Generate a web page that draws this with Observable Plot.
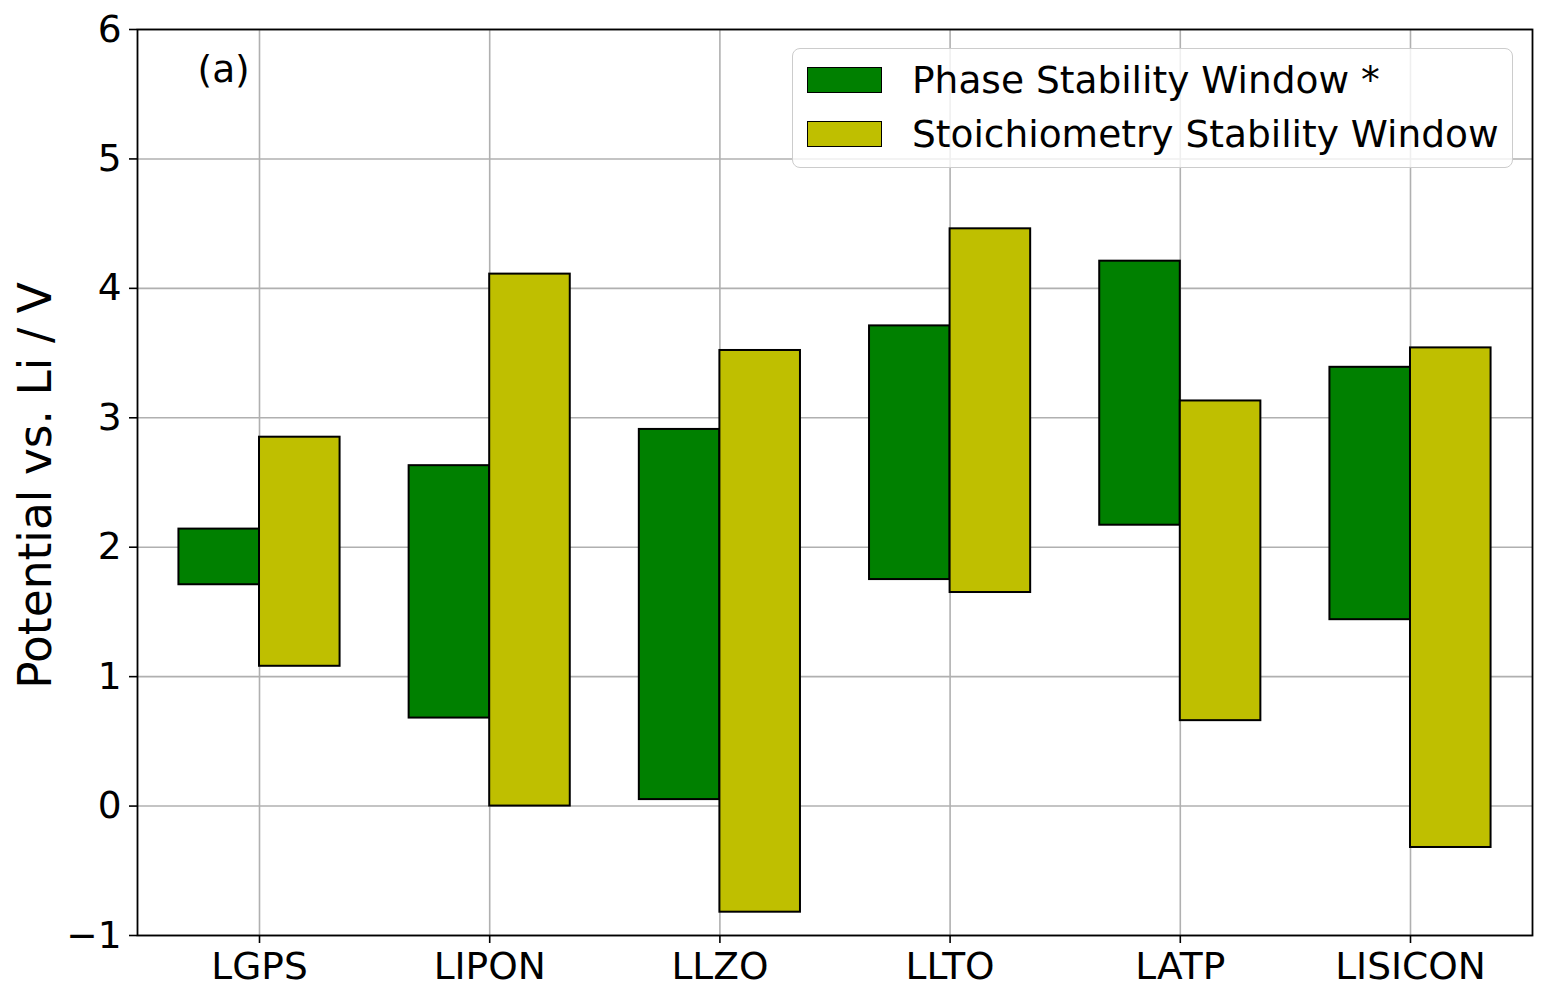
<!DOCTYPE html>
<html>
<head>
<meta charset="utf-8">
<script src="https://cdn.jsdelivr.net/npm/d3@7"></script>
<script src="https://cdn.jsdelivr.net/npm/@observablehq/plot@0.6"></script>
<style>
  body { margin: 0; background: #fff; }
  #wrap { position: relative; width: 1555px; height: 1002px; font-family: "DejaVu Sans", sans-serif; }
  #legend { position: absolute; left: 792px; top: 48px; width: 719px; height: 118px;
    background: rgba(255,255,255,0.8); border: 1.5px solid #cccccc; border-radius: 8px; }
  .item { position: absolute; left: 14px; display: flex; align-items: center; height: 30px; }
  .sw { width: 73px; height: 24px; border: 1.5px solid #000; margin-right: 30px; }
  .lab { font-size: 37.5px; color: #000; white-space: nowrap; line-height: 30px; }
</style>
</head>
<body>
<div id="wrap"></div>
<script>
const categories = ["LGPS", "LIPON", "LLZO", "LLTO", "LATP", "LISICON"];
const phaseLow   = [1.71, 0.68, 0.05, 1.75, 2.17, 1.44];
const phaseHigh  = [2.14, 2.63, 2.91, 3.71, 4.21, 3.39];
const stoichLow  = [1.08, 0.00, -0.82, 1.65, 0.66, -0.32];
const stoichHigh = [2.85, 4.11, 3.52, 4.46, 3.13, 3.54];
const seriesNames = ["Phase Stability Window *", "Stoichiometry Stability Window"];
const seriesColors = ["#008000", "#bfbf00"];
const yTicks = [-1, 0, 1, 2, 3, 4, 5, 6];
const yLabel = "Potential vs. Li / V";
const panelLabel = "(a)";

const barWidth = 0.35;
const rows = [];
categories.forEach((c, i) => {
  rows.push({i, cat: c, series: 0, lo: phaseLow[i], hi: phaseHigh[i]});
  rows.push({i, cat: c, series: 1, lo: stoichLow[i], hi: stoichHigh[i]});
});
const xTicks = categories.map((_, i) => i);

const chart = Plot.plot({
  width: 1555,
  height: 1002,
  marginLeft: 137,
  marginRight: 23,
  marginTop: 29,
  marginBottom: 67,
  style: { fontFamily: "DejaVu Sans, sans-serif", fontSize: "37.5px", color: "#000", background: "#fff" },
  x: { type: "linear", domain: [-0.53, 5.53] },
  y: { domain: [-1, 6] },
  marks: [
    Plot.gridX(xTicks, { stroke: "#b0b0b0", strokeOpacity: 1, strokeWidth: 1.6 }),
    Plot.gridY(yTicks, { stroke: "#b0b0b0", strokeOpacity: 1, strokeWidth: 1.6 }),
    Plot.rect(rows, {
      x1: d => d.series === 0 ? d.i - barWidth : d.i,
      x2: d => d.series === 0 ? d.i : d.i + barWidth,
      y1: "lo", y2: "hi",
      fill: d => seriesColors[d.series],
      stroke: "#000", strokeWidth: 2
    }),
    Plot.frame({ stroke: "#000", strokeWidth: 1.8 }),
    Plot.axisX({ ticks: xTicks, tickFormat: i => categories[i], tickSize: 8, tickPadding: 9, label: null, fontSize: 37.5, strokeWidth: 1.6 }),
    Plot.axisY({ ticks: yTicks, tickFormat: d3.format("d"), tickSize: 8, tickPadding: 8, label: null, fontSize: 37.5, strokeWidth: 1.6 }),
    Plot.text([yLabel], { text: d => d, frameAnchor: "left", dx: -101, dy: 3, rotate: -90, textAnchor: "middle", fontSize: 45.5 }),
    Plot.text([panelLabel], { text: d => d, frameAnchor: "top-left", dx: 60, dy: 26, textAnchor: "start", lineAnchor: "top", fontSize: 37.5 })
  ]
});

const wrap = document.getElementById("wrap");
wrap.appendChild(chart);
const legend = document.createElement("div");
legend.id = "legend";
seriesNames.forEach((name, k) => {
  const it = document.createElement("div");
  it.className = "item";
  it.style.top = (16 + k * 54) + "px";
  const sw = document.createElement("div");
  sw.className = "sw";
  sw.style.background = seriesColors[k];
  const lab = document.createElement("div");
  lab.className = "lab";
  lab.textContent = name;
  it.appendChild(sw); it.appendChild(lab);
  legend.appendChild(it);
});
wrap.appendChild(legend);
</script>
</body>
</html>
